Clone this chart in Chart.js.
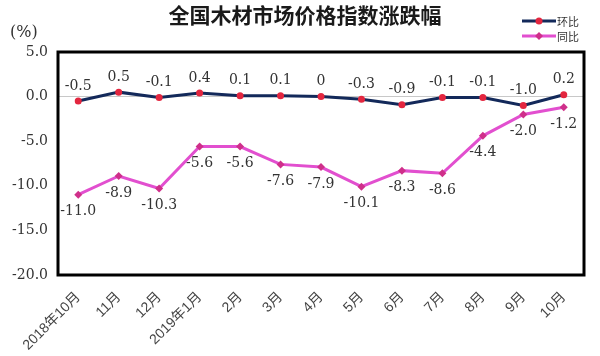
<!DOCTYPE html>
<html><head><meta charset="utf-8">
<script src="https://cdn.jsdelivr.net/npm/chart.js@4"></script>
<style>html,body{margin:0;padding:0;background:#fff;}#wrap{width:600px;height:356px;}</style>
</head><body><div id="wrap"><canvas id="c" width="600" height="356"></canvas></div>
<script>
const categories = ['2018年10月','11月','12月','2019年1月','2月','3月','4月','5月','6月','7月','8月','9月','10月'];
const huanbi = [-0.5, 0.5, -0.1, 0.4, 0.1, 0.1, 0, -0.3, -0.9, -0.1, -0.1, -1.0, 0.2];
const tongbi = [-11.0, -8.9, -10.3, -5.6, -5.6, -7.6, -7.9, -10.1, -8.3, -8.6, -4.4, -2.0, -1.2];
const huanbiLabels = ['-0.5','0.5','-0.1','0.4','0.1','0.1','0','-0.3','-0.9','-0.1','-0.1','-1.0','0.2'];
const tongbiLabels = ['-11.0','-8.9','-10.3','-5.6','-5.6','-7.6','-7.9','-10.1','-8.3','-8.6','-4.4','-2.0','-1.2'];
const seriesNames = ['环比','同比'];
const yTicks = [5, 0, -5, -10, -15, -20];
const titleText = '全国木材市场价格指数涨跌幅';
const unitText = '(%)';

const NAVY = '#13295a', RED = '#e3263f', MAG = '#e24fcf', MAGD = '#cf2f8a';
const numFont = '14px "DejaVu Serif", serif';

const decor = {
  id: 'decor',
  afterDraw(chart) {
    const ctx = chart.ctx, a = chart.chartArea;
    const xs = chart.scales.x, ys = chart.scales.y;
    ctx.save();
    ctx.strokeStyle = '#000'; ctx.lineWidth = 3;
    ctx.strokeRect(a.left, a.top, a.right - a.left, a.bottom - a.top);
    ctx.fillStyle = '#1a1a1a';
    ctx.font = 'bold 21px "Noto Sans CJK SC", sans-serif';
    ctx.textAlign = 'center'; ctx.textBaseline = 'middle';
    ctx.fillText(titleText, 305, 15);
    ctx.font = '16px "DejaVu Serif", serif';
    ctx.fillStyle = '#333';
    ctx.textAlign = 'left';
    ctx.fillText(unitText, 10, 33);
    ctx.font = numFont; ctx.fillStyle = '#333'; ctx.textAlign = 'center';
    huanbi.forEach((v, i) => {
      ctx.fillText(huanbiLabels[i], xs.getPixelForValue(i), ys.getPixelForValue(v) - 15);
    });
    tongbi.forEach((v, i) => {
      ctx.fillText(tongbiLabels[i], xs.getPixelForValue(i), ys.getPixelForValue(v) + 17);
    });
    const items = [[seriesNames[0], NAVY, RED, 'circle', 21], [seriesNames[1], MAG, MAGD, 'diamond', 36]];
    ctx.font = '11px "Noto Sans CJK SC", sans-serif';
    items.forEach(([name, lc, pc, shape, y]) => {
      ctx.strokeStyle = lc; ctx.lineWidth = 3;
      ctx.beginPath(); ctx.moveTo(522, y); ctx.lineTo(556, y); ctx.stroke();
      ctx.fillStyle = pc;
      ctx.beginPath();
      if (shape === 'circle') { ctx.arc(539, y, 3.5, 0, Math.PI * 2); }
      else { ctx.moveTo(539, y - 4); ctx.lineTo(543, y); ctx.lineTo(539, y + 4); ctx.lineTo(535, y); ctx.closePath(); }
      ctx.fill();
      ctx.fillStyle = '#333'; ctx.textAlign = 'left';
      ctx.fillText(name, 557, y + 1);
    });
    ctx.restore();
  }
};

new Chart(document.getElementById('c'), {
  type: 'line',
  data: {
    labels: categories,
    datasets: [
      { label: seriesNames[1], data: tongbi, borderColor: MAG, borderWidth: 3, pointStyle: 'rectRot', pointRadius: 4, pointBackgroundColor: MAGD, pointBorderColor: MAGD, pointBorderWidth: 0, tension: 0 },
      { label: seriesNames[0], data: huanbi, borderColor: NAVY, borderWidth: 3, pointStyle: 'circle', pointRadius: 3.5, pointBackgroundColor: RED, pointBorderColor: RED, pointBorderWidth: 0, tension: 0 }
    ]
  },
  options: {
    responsive: false, animation: false,
    layout: { padding: { top: 52, right: 16, left: 0, bottom: 0 } },
    plugins: { legend: { display: false }, title: { display: false }, tooltip: { enabled: false } },
    scales: {
      x: {
        offset: true,
        grid: { display: false, drawTicks: false },
        border: { display: false },
        ticks: { maxRotation: 45, minRotation: 45, autoSkip: false, color: '#444', padding: 14,
                 font: { family: '"Liberation Sans", "Noto Sans CJK SC", sans-serif', size: 14 } },
        afterFit(s) { s.height = 81; }
      },
      y: {
        min: -20, max: 5,
        afterBuildTicks(s) { s.ticks = yTicks.map(v => ({ value: v })); },
        grid: { drawTicks: false, color: ctx => ctx.tick && ctx.tick.value === 0 ? '#c8c8c8' : 'rgba(0,0,0,0)', lineWidth: 1 },
        border: { display: false },
        ticks: { color: '#333', padding: 10, font: { family: '"DejaVu Serif", serif', size: 14 },
                 callback: v => Number(v).toFixed(1) },
        afterFit(s) { s.width = 58; }
      }
    }
  },
  plugins: [decor]
});
</script>
</body></html>
